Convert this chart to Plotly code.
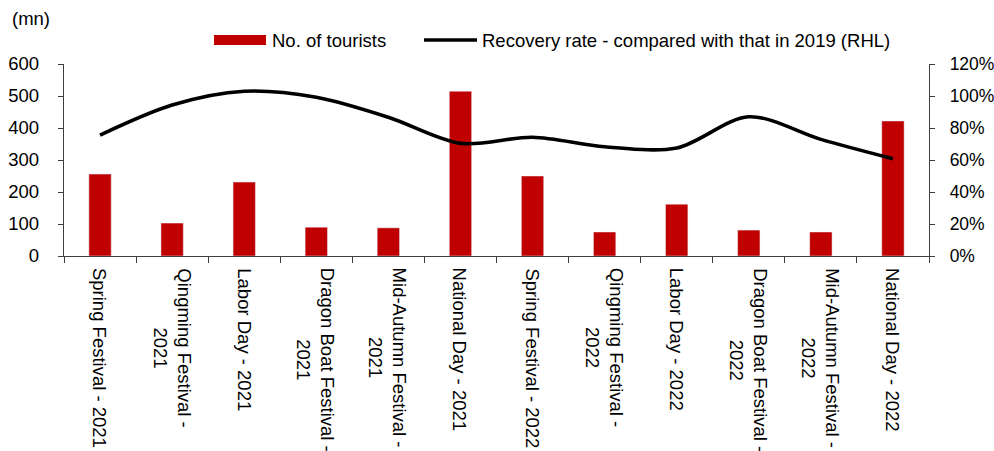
import plotly.graph_objects as go

categories = [
    "Spring Festival - 2021", "Qingming Festival -<br>2021", "Labor Day - 2021",
    "Dragon Boat Festival -<br>2021", "Mid-Autumn Festival -<br>2021", "National Day - 2021",
    "Spring Festival - 2022", "Qingming Festival -<br>2022", "Labor Day - 2022",
    "Dragon Boat Festival -<br>2022", "Mid-Autumn Festival -<br>2022", "National Day - 2022",
]
tourists = [256, 103, 231, 90, 88, 515, 250, 75, 162, 81, 75, 422]
recovery = [75.6, 94.4, 103, 99.2, 86.7, 70.4, 74.2, 68.3, 67.5, 87, 72.9, 60.8]
left_ticks = [0, 100, 200, 300, 400, 500, 600]
right_ticks = [0, 20, 40, 60, 80, 100, 120]

FONT = "Liberation Sans, Arial, sans-serif"
FS = 18.5
RED = "#C00000"
W, H = 994, 451
PL, PR, PT, PB = 64, 929, 64, 256  # plot area in window pixels
L, T, R, B = PL, PT, W - PR, H - PB
pw, ph = PR - PL, PB - PT

def px(x):
    return (x - PL) / pw

def py(y):
    return (PB - y) / ph

fig = go.Figure()
fig.add_trace(go.Bar(x=categories, y=tourists, marker_color=RED, name="No. of tourists",
                     showlegend=False))
fig.add_trace(go.Scatter(x=categories, y=recovery, yaxis="y2", mode="lines",
                         line=dict(color="black", width=3.6, shape="spline", smoothing=0.9),
                         name="Recovery rate - compared with that in 2019 (RHL)", showlegend=False))

# category labels, centred multi-line, rotated
for c in categories:
    fig.add_annotation(text=c, x=c, xref="x", yref="paper", y=py(267), xanchor="center",
                       yanchor="top", textangle=90, align="center", showarrow=False,
                       borderpad=0, font=dict(family=FONT, size=FS, color="black"))

# custom legend
fig.add_shape(type="rect", xref="paper", yref="paper", x0=px(214), x1=px(266), y0=py(45), y1=py(35),
              fillcolor=RED, line_width=0)
fig.add_shape(type="line", xref="paper", yref="paper", x0=px(424), x1=px(477), y0=py(40), y1=py(40),
              line=dict(color="black", width=3.6))
fig.add_annotation(text="No. of tourists", xref="paper", yref="paper", x=px(270), y=py(40),
                   xanchor="left", yanchor="middle", showarrow=False,
                   font=dict(family=FONT, size=FS, color="black"))
fig.add_annotation(text="Recovery rate - compared with that in 2019 (RHL)", xref="paper", yref="paper",
                   x=px(480), y=py(40), xanchor="left", yanchor="middle", showarrow=False,
                   font=dict(family=FONT, size=FS, color="black"))
fig.add_annotation(text="(mn)", xref="paper", yref="paper", x=px(10), y=py(18),
                   xanchor="left", yanchor="middle", showarrow=False,
                   font=dict(family=FONT, size=FS, color="black"))

axcol = "#404040"
fig.update_layout(
    width=W, height=H,
    margin=dict(l=L, r=R, t=T, b=B, pad=0, autoexpand=False),
    paper_bgcolor="white", plot_bgcolor="white",
    font=dict(family=FONT, size=FS, color="black"),
    bargap=0.69,
    xaxis=dict(showline=True, linecolor=axcol, linewidth=1.3, ticks="outside", tickson="boundaries",
               ticklen=6, tickcolor=axcol, showticklabels=False, showgrid=False, zeroline=False,
               automargin=False),
    yaxis=dict(range=[0, 600], tickvals=left_ticks, showline=True, linecolor=axcol, linewidth=1.3,
               ticks="outside", ticklen=5, tickcolor=axcol, showgrid=False, zeroline=False,
               ticklabelstandoff=15, tickfont=dict(family=FONT, size=FS), automargin=False),
    yaxis2=dict(range=[0, 120], tickvals=right_ticks, ticktext=[f"{v}%" for v in right_ticks],
                overlaying="y", side="right", showline=True, linecolor=axcol, linewidth=1.3,
                ticks="outside", ticklen=5, tickcolor=axcol, showgrid=False, zeroline=False,
                ticklabelstandoff=11, tickfont=dict(family=FONT, size=17.5), automargin=False),
)

fig.write_html("out.html", config={"displayModeBar": False},
               post_script="document.body.style.margin='0';document.body.style.overflow='hidden';")
